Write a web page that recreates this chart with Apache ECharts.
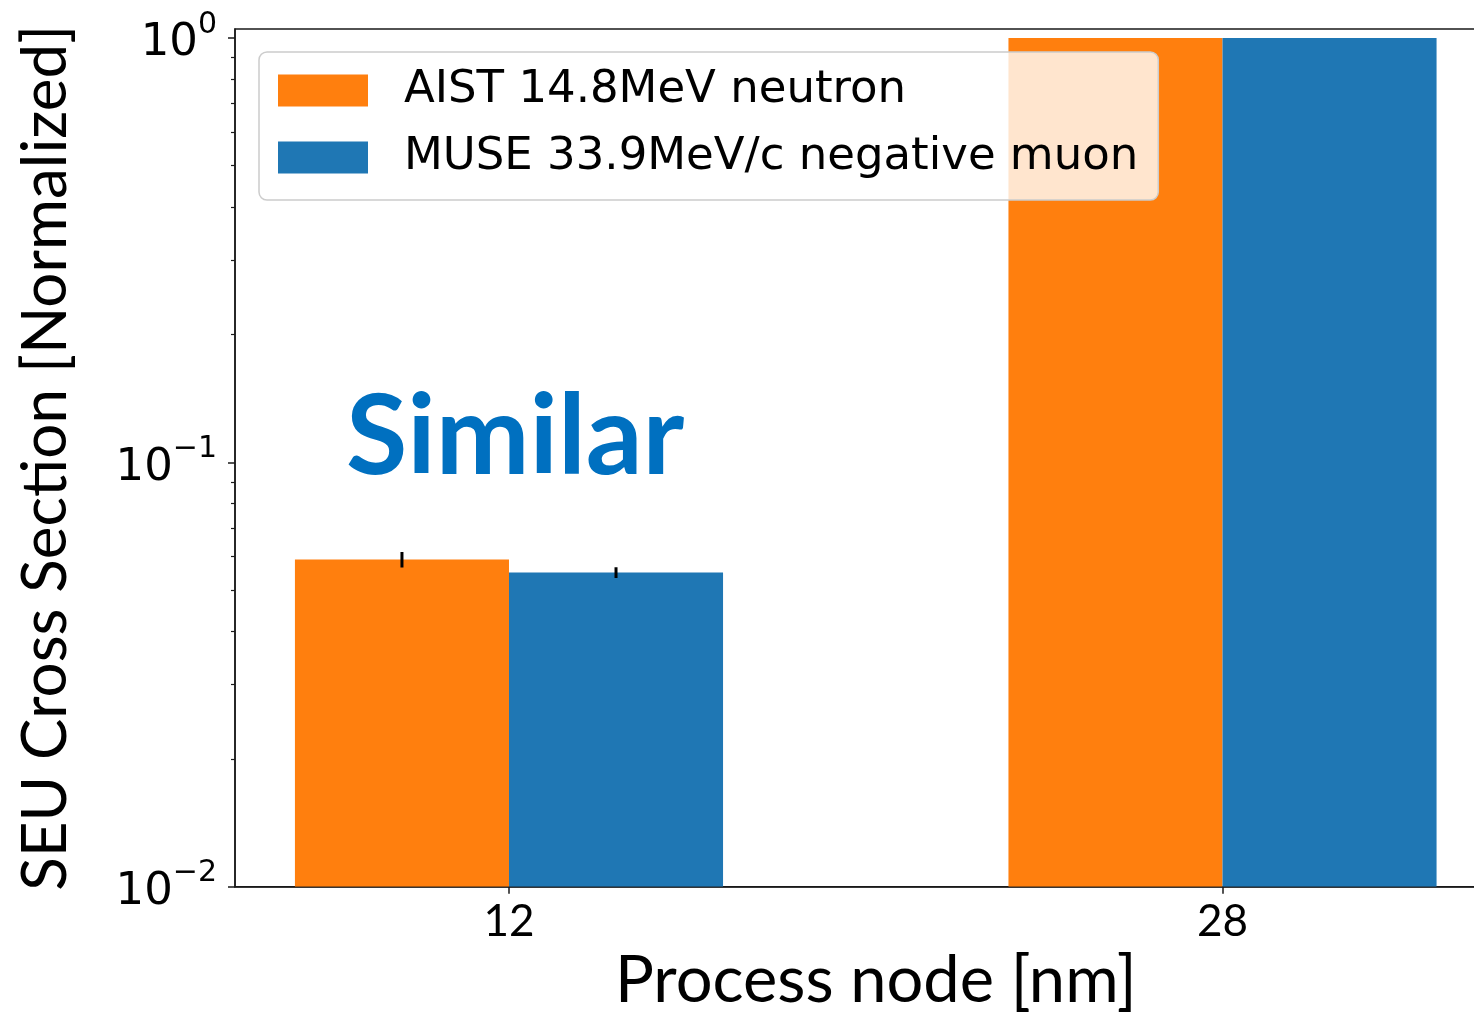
<!DOCTYPE html>
<html>
<head>
<meta charset="utf-8">
<script src="https://cdn.jsdelivr.net/npm/echarts@6/dist/echarts.min.js"></script>
<style>
html,body{margin:0;padding:0;background:#fff;}
#chart{width:1474px;height:1014px;}
</style>
</head>
<body>
<div id="chart"></div>
<script>
// ---- data ----
const categories = ['12', '28'];
const seriesNames = ['AIST 14.8MeV neutron', 'MUSE 33.9MeV/c negative muon'];
const neutronValues = [0.059, 1.0];
const neutronErrors = [0.0025, 0];
const muonValues = [0.055, 1.0];
const muonErrors = [0.0016, 0];
const yMajorTicks = [0.01, 0.1, 1];
const yMinorTicks = [];
[0.01, 0.1].forEach(function (d) { for (let k = 2; k <= 9; k++) yMinorTicks.push(+(k * d).toFixed(4)); });

const Y_MIN = 0.01, Y_MAX = 1.05;
const BAR_W = 0.3;
const colors = ['#FF7F0E', '#1F77B4'];

function makeData(values, errors) {
  return categories.map(function (c, i) { return [i, values[i], errors[i]]; });
}

function barRenderer(side) {
  return function (params, api) {
    const i = api.value(0), v = api.value(1), e = api.value(2);
    const x0 = side < 0 ? i - BAR_W : i;
    const x1 = side < 0 ? i : i + BAR_W;
    const pTop = api.coord([x0, v]);
    const pBot = api.coord([x1, Y_MIN]);
    const children = [{
      type: 'rect',
      shape: { x: pTop[0], y: pTop[1], width: pBot[0] - pTop[0], height: pBot[1] - pTop[1] },
      style: { fill: api.visual('color') }
    }];
    if (e > 0) {
      const xc = (x0 + x1) / 2;
      const a = api.coord([xc, v + e]);
      const b = api.coord([xc, v - e]);
      children.push({
        type: 'line',
        shape: { x1: a[0], y1: a[1], x2: b[0], y2: b[1] },
        style: { stroke: '#000', lineWidth: 3 }
      });
    }
    return { type: 'group', children: children };
  };
}

const chart = echarts.init(document.getElementById('chart'), null, { renderer: 'canvas' });
chart.setOption({
  animation: false,
  backgroundColor: '#fff',
  grid: {
    left: 235, top: 29, width: 1261.5, height: 857.7,
    show: true, borderColor: '#1a1a1a', borderWidth: 1.5,
    outerBoundsMode: 'none', containLabel: false
  },
  legend: {
    orient: 'vertical', left: 259, top: 52,
    icon: 'rect', itemWidth: 90, itemHeight: 32, itemGap: 22,
    padding: [16, 20, 20, 19],
    backgroundColor: 'rgba(255,255,255,0.8)',
    borderColor: '#cccccc', borderWidth: 1.5, borderRadius: 8,
    textStyle: { fontFamily: 'DejaVu Sans', fontSize: 45, color: '#000', padding: [0, 0, 0, 31] },
    data: seriesNames,
    z: 10
  },
  xAxis: {
    type: 'value', min: -0.384, max: 1.384,
    name: 'Process node [nm]', nameLocation: 'middle', nameGap: 60,
    nameTextStyle: { fontFamily: 'Lato', fontSize: 65, color: '#000', padding: [0, 0, 0, 20] },
    axisLine: { show: true, onZero: false, lineStyle: { color: '#1a1a1a', width: 1.5 } },
    axisTick: { show: true, customValues: [0, 1], length: 7, lineStyle: { color: '#1a1a1a', width: 1.5 } },
    axisLabel: {
      customValues: [0, 1], margin: 13,
      fontFamily: 'Lato', fontSize: 44, color: '#000',
      formatter: function (v) { return categories[Math.round(v)]; }
    },
    splitLine: { show: false }
  },
  yAxis: [{
    type: 'log', logBase: 10, min: Y_MIN, max: Y_MAX,
    name: 'SEU Cross Section [Normalized]', nameLocation: 'middle', nameGap: 158, nameRotate: 90,
    nameTextStyle: { fontFamily: 'Lato', fontSize: 62, color: '#000' },
    axisLine: { show: true, onZero: false, lineStyle: { color: '#1a1a1a', width: 1.5 } },
    axisTick: { show: true, customValues: yMajorTicks, length: 7, lineStyle: { color: '#1a1a1a', width: 1.5 } },
    axisLabel: {
      customValues: yMajorTicks, margin: 18,
      formatter: function (v) {
        const ex = Math.round(Math.log10(v));
        return '{b|10}{s|' + (ex < 0 ? '\u2212' + (-ex) : ex) + '}';
      },
      rich: {
        b: { fontFamily: 'DejaVu Sans', fontSize: 45, color: '#000', lineHeight: 56, verticalAlign: 'bottom' },
        s: { fontFamily: 'DejaVu Sans', fontSize: 30, color: '#000', lineHeight: 30, verticalAlign: 'top' }
      }
    },
    splitLine: { show: false }
  }, {
    type: 'log', logBase: 10, min: Y_MIN, max: Y_MAX, position: 'left',
    axisLine: { show: false, onZero: false },
    axisTick: { show: true, customValues: yMinorTicks, length: 4, lineStyle: { color: '#1a1a1a', width: 1.2 } },
    axisLabel: { show: false },
    splitLine: { show: false }
  }],
  graphic: [{
    type: 'text', left: 346, top: 382,
    style: { text: 'Similar', fontFamily: 'Lato', fontWeight: 'bold', fontSize: 112, fill: '#0070C0' },
    z: 20
  }],
  series: [{
    name: seriesNames[0], type: 'custom', renderItem: barRenderer(-1),
    itemStyle: { color: colors[0] }, data: makeData(neutronValues, neutronErrors),
    encode: { x: 0, y: 1 }, clip: true
  }, {
    name: seriesNames[1], type: 'custom', renderItem: barRenderer(1),
    itemStyle: { color: colors[1] }, data: makeData(muonValues, muonErrors),
    encode: { x: 0, y: 1 }, clip: true
  }]
});
</script>
</body>
</html>
